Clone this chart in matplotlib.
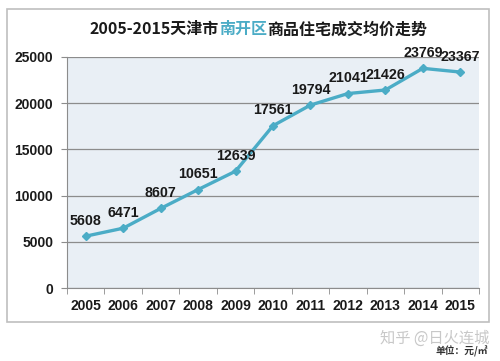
import matplotlib
matplotlib.use('Agg')
import matplotlib.pyplot as plt
from matplotlib.patches import Rectangle

plt.rcParams['font.family'] = ['Liberation Sans', 'Noto Sans CJK SC', 'DejaVu Sans']

years = ['2005', '2006', '2007', '2008', '2009', '2010', '2011', '2012', '2013', '2014', '2015']
prices = [5608, 6471, 8607, 10651, 12639, 17561, 19794, 21041, 21426, 23769, 23367]
yticks = [0, 5000, 10000, 15000, 20000, 25000]

line_color = '#4bacc6'
cjk = ['Noto Sans CJK SC', 'DejaVu Sans']

fig = plt.figure(figsize=(5, 3.61), dpi=100)
fig.patch.set_facecolor('white')

# outer frame
fig.patches.append(Rectangle((0.014, 0.108), 0.964, 0.867, transform=fig.transFigure,
                             fill=False, edgecolor='#bfbfbf', linewidth=1.2))

ax = fig.add_axes([0.134, 0.2022, 0.824, 0.64])
ax.set_facecolor('#e9eff5')
x = list(range(len(years)))
ax.plot(x, prices, color=line_color, linewidth=2.4, marker='D', markersize=4,
        markerfacecolor=line_color, markeredgecolor=line_color)
for xi, v in zip(x, prices):
    ax.annotate(str(v), (xi, v), xytext=(0, 6), textcoords='offset points',
                ha='center', va='bottom', fontsize=10.3, fontweight='bold', color='#1a1a1a')

ax.set_xlim(-0.5, len(years) - 0.5)
ax.set_ylim(0, 25000)
ax.set_yticks(yticks)
ax.set_yticklabels([str(t) for t in yticks], fontsize=10, fontweight='bold', color='#1a1a1a')
ax.set_xticks(x)
ax.set_xticklabels(years, fontsize=10, fontweight='bold', color='#1a1a1a')
ax.set_xticks([i - 0.5 for i in range(len(years) + 1)], minor=True)
ax.tick_params(axis='x', which='major', length=0, pad=8)
ax.tick_params(axis='x', which='minor', length=4, color='#8c8c8c', direction='out')
ax.tick_params(axis='y', length=4, color='#8c8c8c', pad=6)
ax.grid(axis='y', color='#8c8c8c', linewidth=0.9)
ax.set_axisbelow(True)
for s in ['top', 'right']:
    ax.spines[s].set_visible(False)
ax.spines['left'].set_color('#8c8c8c')
ax.spines['bottom'].set_color('#8c8c8c')

# title in three colours
t1 = fig.text(0.18, 0.905, '2005-2015天津市', fontsize=11.5, fontweight='bold',
              family=cjk, color='#1a1a1a', va='baseline')
t2 = ax.annotate('南开区', xy=(1, 0), xycoords=t1, va='bottom', ha='left',
                 fontsize=11.5, fontweight='bold', family=cjk, color=line_color,
                 annotation_clip=False)
t3 = ax.annotate('商品住宅成交均价走势', xy=(1, 0), xycoords=t2, va='bottom', ha='left',
                 fontsize=11.5, fontweight='bold', family=cjk, color='#1a1a1a',
                 annotation_clip=False)

fig.text(0.76, 0.04, '知乎 @日火连城', fontsize=11, family=cjk, color='#c8c8c8', va='bottom')
fig.text(0.975, 0.012, '单位：元/㎡', fontsize=7, family=cjk, color='#333333',
         ha='right', va='bottom', fontweight='bold')

fig.savefig('out.png', dpi=100)
